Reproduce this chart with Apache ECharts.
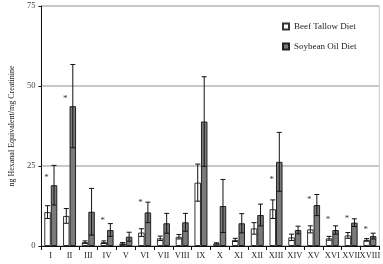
<!DOCTYPE html>
<html>
<head>
<meta charset="utf-8">
<script src="https://cdn.jsdelivr.net/npm/echarts@6/dist/echarts.min.js"></script>
<style>
html,body{margin:0;padding:0;background:#fff;}
#x1{width:383px;height:264px;}
</style>
</head>
<body>
<div id="x1"></div>
<script>
var groups = ['I','II','III','IV','V','VI','VII','VIII','IX','X','XI','XII','XIII','XIV','XV','XVI','XVII','XVIII'];
var beef = [10.6, 9.4, 1.2, 1.2, 0.8, 4.2, 2.4, 2.9, 19.8, 0.8, 1.9, 5.5, 11.5, 2.7, 5.2, 2.4, 3.3, 1.9];
var beefErr = [2.0, 2.3, 0.4, 0.4, 0.3, 1.2, 0.7, 0.7, 5.8, 0.2, 0.5, 1.8, 2.9, 1.0, 1.1, 0.6, 0.9, 0.4];
var soy = [19.0, 43.7, 10.7, 5.0, 2.9, 10.5, 7.1, 7.4, 38.9, 12.5, 7.1, 9.7, 26.3, 5.0, 12.8, 5.0, 7.3, 3.1];
var soyErr = [6.2, 13.0, 7.3, 2.0, 1.4, 3.2, 3.1, 2.8, 14.0, 8.3, 3.0, 3.4, 9.2, 1.2, 3.3, 1.3, 1.2, 0.9];
// where the * marks sit (y value); null = no mark
var star = [21.5, 46, null, 8, null, 13.4, null, null, null, null, null, null, 20.6, null, 14.6, 8.1, 8.4, 5];

var barW = 6.5;
var serif = 'Liberation Serif';

function errData(vals, errs) {
	var out = [];
	for (var i = 0; i < vals.length; i++) out.push([i, vals[i], errs[i]]);
	return out;
}

function errSeries(vals, errs, off) {
	return {
		type: 'custom',
		silent: true,
		z: 5,
		data: errData(vals, errs),
		renderItem: function (params, api) {
			var c = api.value(0), v = api.value(1), e = api.value(2);
			var hi = api.coord([c, v + e]);
			var lo = api.coord([c, v - e]);
			var x = hi[0] + off;
			var cap = 2.5;
			var st = {stroke: '#111', lineWidth: 1};
			return {
				type: 'group',
				children: [
					{type: 'line', shape: {x1: x, y1: hi[1], x2: x, y2: lo[1]}, style: st},
					{type: 'line', shape: {x1: x - cap, y1: hi[1], x2: x + cap, y2: hi[1]}, style: st},
					{type: 'line', shape: {x1: x - cap, y1: lo[1], x2: x + cap, y2: lo[1]}, style: st}
				]
			};
		}
	};
}

var starData = [];
for (var i = 0; i < star.length; i++) {
	if (star[i] != null) starData.push([i, star[i]]);
}

var myChart = echarts.init(document.getElementById('x1'));
var option1 = {
	animation: false,
	grid: {left: 32, right: 3, top: 6, bottom: 18, show: true, borderColor: '#c8c8c8', borderWidth: 1},
	legend: {
		orient: 'vertical',
		left: 277,
		top: 17,
		itemWidth: 6,
		itemHeight: 6,
		itemGap: 11,
		icon: 'rect',
		textStyle: {fontFamily: serif, fontSize: 9, color: '#222'},
		data: ['Beef Tallow Diet', 'Soybean Oil Diet']
	},
	xAxis: {
		type: 'category',
		data: groups,
		axisLine: {lineStyle: {color: '#111'}},
		axisTick: {show: true, length: 4, lineStyle: {color: '#111'}},
		axisLabel: {interval: 0, fontFamily: serif, fontSize: 8.5, color: '#222', margin: 5}
	},
	yAxis: {
		type: 'value',
		min: 0,
		max: 75,
		interval: 25,
		name: 'ng Hexanal Equivalent/mg Creatinine',
		nameLocation: 'middle',
		nameGap: 23,
		nameTextStyle: {fontFamily: serif, fontSize: 8, color: '#222'},
		axisLine: {show: true, lineStyle: {color: '#111'}},
		axisTick: {show: true, length: 3, lineStyle: {color: '#111'}},
		axisLabel: {fontFamily: serif, fontSize: 8.5, color: '#444', margin: 6},
		splitLine: {lineStyle: {color: '#c8c8c8', width: 2}}
	},
	series: [
		{
			name: 'Beef Tallow Diet',
			type: 'bar',
			data: beef,
			barWidth: barW,
			barGap: '0%',
			itemStyle: {color: '#ffffff', borderColor: '#333', borderWidth: 1}
		},
		{
			name: 'Soybean Oil Diet',
			type: 'bar',
			data: soy,
			barWidth: barW,
			barGap: '0%',
			itemStyle: {color: '#7a7a7a', borderColor: '#222', borderWidth: 1}
		},
		errSeries(beef, beefErr, -barW / 2),
		errSeries(soy, soyErr, barW / 2),
		{
			type: 'custom',
			silent: true,
			z: 6,
			data: starData,
			renderItem: function (params, api) {
				var p = api.coord([api.value(0), api.value(1)]);
				return {
					type: 'text',
					x: p[0] - barW / 2 - 1,
					y: p[1],
					style: {text: '*', fill: '#333', fontSize: 9, fontFamily: serif, align: 'center', verticalAlign: 'middle'}
				};
			}
		}
	]
};
myChart.setOption(option1);
</script>
</body>
</html>
